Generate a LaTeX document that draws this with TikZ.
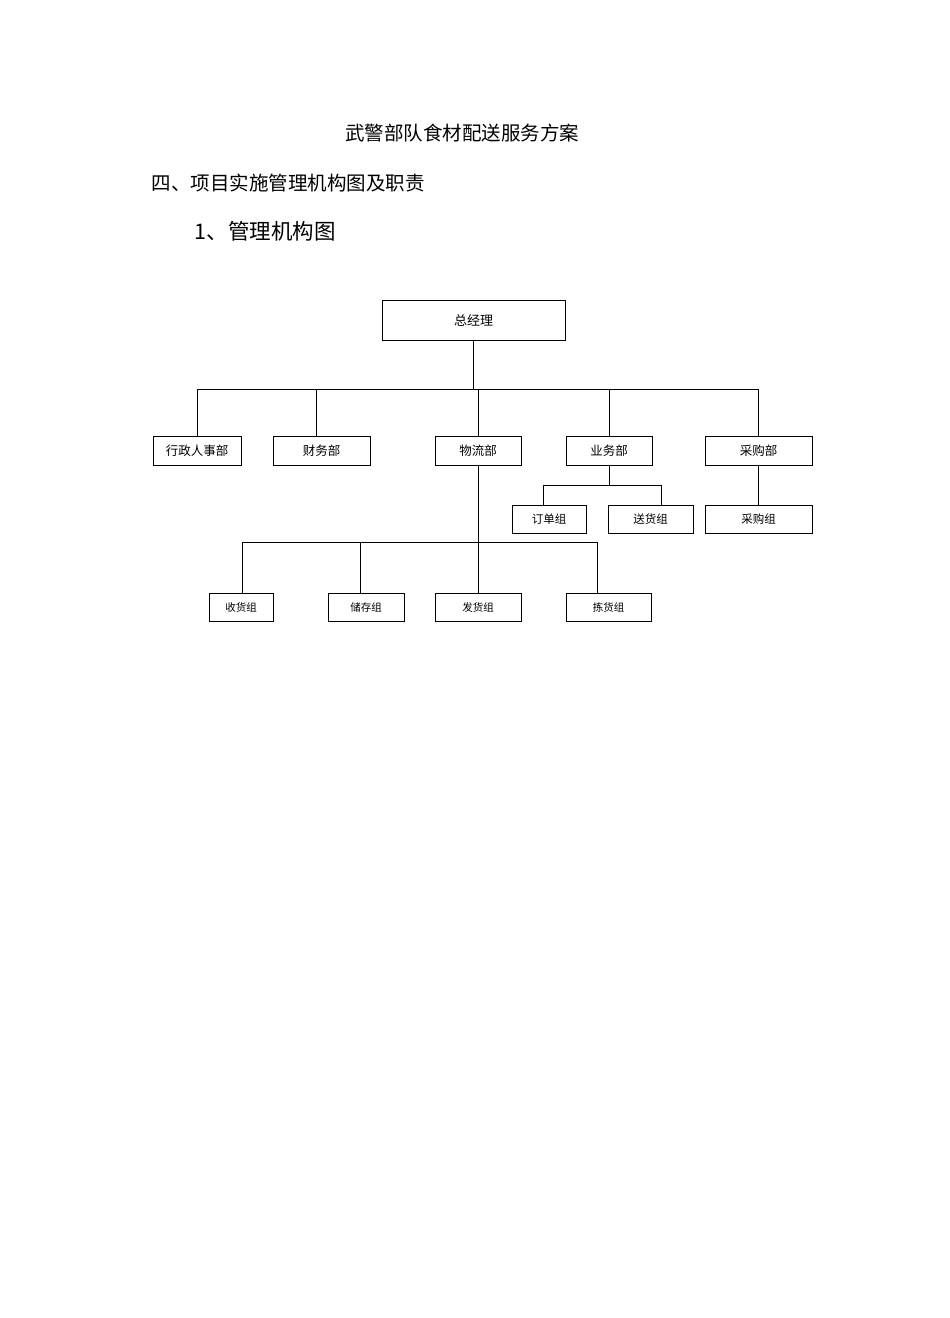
\documentclass[tikz,border=0pt]{standalone}
\usepackage{fontspec}
\setmainfont{Noto Sans CJK SC}
\usetikzlibrary{positioning}

\begin{document}
\begin{tikzpicture}[x=1pt, y=-1pt, line width=0.9pt]
  \tikzset{
    unit/.style={draw, line width=1pt, inner sep=0pt, minimum height=29pt, font=\fontsize{12.5}{13}\selectfont},
    team/.style={unit, minimum height=28pt, font=\fontsize{11.5}{12}\selectfont},
    crew/.style={unit, minimum height=28pt, font=\fontsize{10.5}{11}\selectfont},
  }
  \useasboundingbox (0,0) rectangle (950,1318);
  %% page headings
  \node[font=\fontsize{19.5}{20}\selectfont] (title) at (462,133) {武警部队食材配送服务方案};
  \node[anchor=west, font=\fontsize{19.5}{20}\selectfont] (sec) at (148,183) {四、项目实施管理机构图及职责};
  \node[anchor=west, font=\fontsize{21.5}{22}\selectfont] (subsec) at (191,231) {1、管理机构图};
  %% top
  \node[unit, minimum width=183pt, minimum height=40pt, font=\fontsize{13}{14}\selectfont] (gm) at (473.5,320) {总经理};
  %% departments
  \node[unit, minimum width=88pt]  (admin) at (197,450.5)   {行政人事部};
  \node[unit, minimum width=97pt]  (fin)   at (321.5,450.5) {财务部};
  \node[unit, minimum width=86pt]  (logi)  at (478,450.5)   {物流部};
  \node[unit, minimum width=86pt]  (biz)   at (609,450.5)   {业务部};
  \node[unit, minimum width=107pt] (pur)   at (758.5,450.5) {采购部};
  %% teams under biz / pur
  \node[team, minimum width=74pt]  (order) at (549,519)   {订单组};
  \node[team, minimum width=85pt]  (deliv) at (650.5,519) {送货组};
  \node[team, minimum width=107pt] (pgrp)  at (758.5,519) {采购组};
  %% teams under logi
  \node[crew, minimum width=64pt] (recv)  at (241,607)   {收货组};
  \node[crew, minimum width=76pt] (store) at (366,607)   {储存组};
  \node[crew, minimum width=86pt] (ship)  at (478,607)   {发货组};
  \node[crew, minimum width=85pt] (pick)  at (608.5,607) {拣货组};
  %% bus lines
  \coordinate (busA) at (478,389);
  \coordinate (busB) at (608,485);
  \coordinate (busC) at (478,542);
  %% gm -> departments
  \draw (gm.south) -- (gm.south |- busA);
  \draw (admin.north |- busA) -- (pur.north |- busA);
  \foreach \d in {admin,logi,biz,pur}
    \draw (\d.north) -- (\d.north |- busA);
  \draw ([xshift=-5.5pt]fin.north) -- ([xshift=-5.5pt]fin.north |- busA);
  %% biz -> teams
  \draw (biz.south) -- (biz.south |- busB);
  \draw ([xshift=-6pt]order.north |- busB) -- ([xshift=10.5pt]deliv.north |- busB);
  \draw ([xshift=-6pt]order.north) -- ([xshift=-6pt]order.north |- busB);
  \draw ([xshift=10.5pt]deliv.north) -- ([xshift=10.5pt]deliv.north |- busB);
  %% pur -> team
  \draw (pur.south) -- (pgrp.north);
  %% logi -> teams
  \draw (logi.south) -- (ship.north);
  \draw ([xshift=1pt]recv.north |- busC) -- ([xshift=-11.5pt]pick.north |- busC);
  \draw ([xshift=1pt]recv.north) -- ([xshift=1pt]recv.north |- busC);
  \draw ([xshift=-6pt]store.north) -- ([xshift=-6pt]store.north |- busC);
  \draw ([xshift=-11.5pt]pick.north) -- ([xshift=-11.5pt]pick.north |- busC);
\end{tikzpicture}
\end{document}
